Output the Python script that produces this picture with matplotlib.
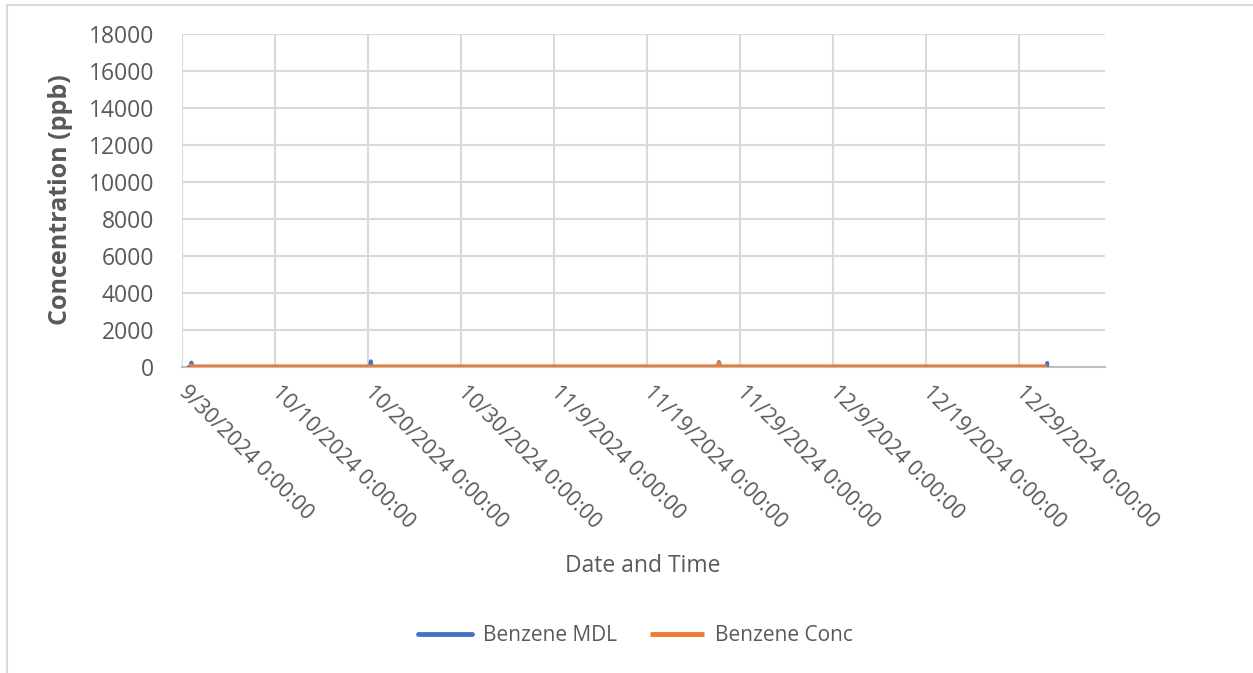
import matplotlib
matplotlib.use("Agg")
import matplotlib.pyplot as plt
import matplotlib.dates as mdates
from matplotlib.patches import Rectangle
from matplotlib.ticker import FuncFormatter, MultipleLocator
import pandas as pd

# Benzene monitoring, hourly readings (ppb) -- flat near zero with a few spikes
zeiten = [
    "2024-09-30 18:00", "2024-09-30 23:00", "2024-10-01 00:00", "2024-10-01 01:00",
    "2024-10-10 00:00", "2024-10-20 06:00", "2024-10-20 07:00", "2024-10-20 08:00",
    "2024-10-30 00:00", "2024-11-09 00:00", "2024-11-19 00:00", "2024-11-26 15:00",
    "2024-11-26 17:00", "2024-11-26 19:00", "2024-12-09 00:00", "2024-12-19 00:00",
    "2024-12-31 21:00", "2024-12-31 23:00", "2025-01-01 00:00",
]
benzol_mdl = [3, 3, 230, 3, 3, 3, 300, 3, 3, 3, 3, 3, 260, 3, 3, 3, 3, 3, 210]
benzol_konz = [5, 5, 60, 5, 5, 5, 5, 5, 5, 5, 5, 5, 190, 5, 5, 5, 5, 5, 5]

y_max = 18000
y_schritt = 2000
x_start = "2024-09-30"
x_ende = "2025-01-07 05:00"

BLAU = "#4472C4"
ORANGE = "#ED7D31"
TEXT = "#595959"
GITTER = "#D9D9D9"

plt.rcParams["font.family"] = ["Open Sans", "DejaVu Sans"]

zeit_idx = pd.to_datetime(zeiten)

fig = plt.figure(figsize=(12.53, 6.73), dpi=100)
ax = fig.add_axes([0.1453, 0.4547, 0.7366, 0.4948])

ax.plot(zeit_idx, benzol_mdl, color=BLAU, linewidth=3, solid_capstyle="round",
        label="Benzene MDL", zorder=3)
ax.plot(zeit_idx, benzol_konz, color=ORANGE, linewidth=3.5, solid_capstyle="butt",
        label="Benzene Conc", zorder=4)

ax.set_ylim(0, y_max)
ax.yaxis.set_major_locator(MultipleLocator(y_schritt))
ax.set_xlim(pd.Timestamp(x_start), pd.Timestamp(x_ende))
ax.set_xticks(pd.date_range(x_start, periods=10, freq="10D"))


def datum_fmt(x, pos):
    d = mdates.num2date(x)
    return f"{d.month}/{d.day}/{d.year} 0:00:00"


ax.xaxis.set_major_formatter(FuncFormatter(datum_fmt))

ax.grid(True, color=GITTER, linewidth=1.5, zorder=0)
ax.set_axisbelow(True)
for s in ["top", "right", "left"]:
    ax.spines[s].set_visible(False)
ax.spines["bottom"].set_color("#BFBFBF")
ax.spines["bottom"].set_linewidth(1.5)

ax.tick_params(axis="y", length=0, pad=20, labelsize=16.5, labelcolor=TEXT)
ax.tick_params(axis="x", length=0, pad=16, labelsize=15.5, labelcolor=TEXT)
for lbl in ax.get_xticklabels():
    lbl.set_rotation(-45)
    lbl.set_rotation_mode("anchor")
    lbl.set_ha("left")
    lbl.set_va("center")

fig.text(0.0479, 0.703, "Concentration (ppb)", rotation=90, ha="center", va="center",
         fontsize=18, fontweight="bold", color=TEXT)
fig.text(0.513, 0.159, "Date and Time", ha="center", va="center",
         fontsize=16.5, color=TEXT)

leg = fig.legend(loc="center", bbox_to_anchor=(0.507, 0.055), ncol=2, frameon=False,
                 fontsize=15, handlelength=2.6, handletextpad=0.5, columnspacing=1.6)
for t in leg.get_texts():
    t.set_color(TEXT)
for h in leg.get_lines():
    h.set_linewidth(3.5)

# chart frame
fig.patches.append(Rectangle((7 / 1253, -0.01), 1.2, 1 - 5 / 673 + 0.01,
                             transform=fig.transFigure, fill=False,
                             edgecolor=GITTER, linewidth=1.5))

fig.savefig("out.png", dpi=100, facecolor="white")
